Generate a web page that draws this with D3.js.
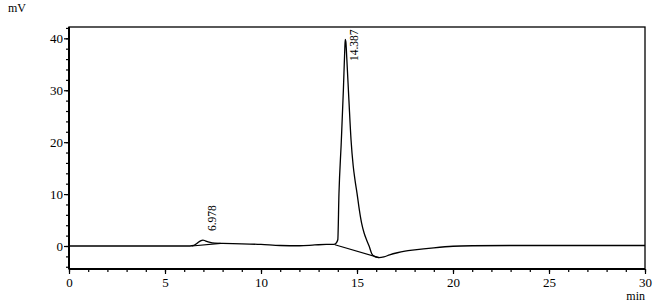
<!DOCTYPE html>
<html>
<head>
<meta charset="utf-8">
<script src="https://cdn.jsdelivr.net/npm/d3@7"></script>
<style>
  body { margin: 0; background: #fff; }
  text { font-family: "Liberation Serif", serif; fill: #000; }
</style>
</head>
<body>
<script>
var width = 667,
    height = 307;

// signal trace (min, mV)
var times = [0, 6.3, 6.5, 6.7, 6.85, 6.978, 7.1, 7.3, 7.6, 8.0, 9.0, 10.0, 11.0, 12.0, 12.8, 13.4, 13.8, 13.9,
             14.0, 14.06, 14.18, 14.29, 14.36, 14.387, 14.42, 14.47, 14.58, 14.69, 14.8, 14.9, 15.0, 15.12, 15.24,
             15.37, 15.5, 15.63, 15.77, 15.95, 16.15, 16.4, 16.7, 17.1, 17.5, 18.0, 19.0, 20.0, 21.0, 23.0, 26.0, 30.0];
var signal = [0, 0, 0.1, 0.6, 1.0, 1.15, 1.0, 0.75, 0.55, 0.5, 0.42, 0.3, 0.1, 0.05, 0.2, 0.3, 0.3, 0.5,
              1.2, 10, 20, 30, 37.5, 39.8, 39.3, 36, 28, 20.4, 15.5, 12.6, 10.2, 7.0, 4.4,
              2.5, 1.15, 0, -1.5, -2.1, -2.25, -2.1, -1.7, -1.3, -1.0, -0.75, -0.35, -0.05, 0.05, 0.1, 0.1, 0.1];

// peaks: retention time, apex, integration baseline
var peakTimes = [6.978, 14.387];
var peakHeights = [1.15, 39.8];
var baseStartT = [6.4, 13.85];
var baseStartV = [0, 0.25];
var baseEndT = [7.9, 16.15];
var baseEndV = [0.5, -2.25];

var xTicks = [0, 5, 10, 15, 20, 25, 30];
var yTicks = [0, 10, 20, 30, 40];

var svg = d3.select("body")
            .append("svg")
            .attr("width", width)
            .attr("height", height);

var x = d3.scaleLinear().domain([0, 30]).range([69, 645]);
var y = d3.scaleLinear().domain([-4.43, 42.18]).range([269, 27]);

// frame
svg.append("rect")
   .attr("x", x(0)).attr("y", y(42.18))
   .attr("width", x(30) - x(0)).attr("height", y(-4.43) - y(42.18))
   .attr("fill", "none").attr("stroke", "#000").attr("stroke-width", 1.3);

// axes
var xMinor = d3.axisBottom(x).tickValues(d3.range(0, 31, 1)).tickSize(3).tickFormat("");
var xMajor = d3.axisBottom(x).tickValues(xTicks).tickSize(5).tickPadding(4).tickFormat(d3.format("d"));
var yMinor = d3.axisLeft(y).tickValues(d3.range(-4, 43, 2)).tickSize(3).tickFormat("");
var yMajor = d3.axisLeft(y).tickValues(yTicks).tickSize(5).tickPadding(1).tickFormat(d3.format("d"));

function styleAxis(g) {
  g.select(".domain").remove();
  g.selectAll("line").attr("stroke", "#000").attr("stroke-width", 1.2);
  g.selectAll("text").attr("font-size", 13).attr("font-family", "Liberation Serif");
}

svg.append("g").attr("transform", "translate(0," + y(-4.43) + ")").call(xMinor).call(styleAxis);
svg.append("g").attr("transform", "translate(0," + y(-4.43) + ")").call(xMajor).call(styleAxis);
svg.append("g").attr("transform", "translate(" + x(0) + ",0)").call(yMinor).call(styleAxis);
svg.append("g").attr("transform", "translate(" + x(0) + ",0)").call(yMajor).call(styleAxis);

svg.append("line")
   .attr("x1", x(0)).attr("x2", x(30)).attr("y1", y(-4.43)).attr("y2", y(-4.43))
   .attr("stroke", "#000").attr("stroke-width", 2);
svg.append("line")
   .attr("x1", x(0)).attr("x2", x(0)).attr("y1", y(42.18)).attr("y2", y(-4.43))
   .attr("stroke", "#000").attr("stroke-width", 2);

svg.append("text").attr("x", 8).attr("y", 12).attr("font-size", 12).text("mV");
svg.append("text").attr("x", 645).attr("y", 300).attr("font-size", 12)
   .attr("text-anchor", "end").text("min");

// trace
var pts = times.map(function(t, i){ return [t, signal[i]]; });
var line = d3.line()
             .x(function(d){ return x(d[0]); })
             .y(function(d){ return y(d[1]); })
             .curve(d3.curveMonotoneX);

svg.append("path")
   .datum(pts)
   .attr("d", line)
   .attr("fill", "none")
   .attr("stroke", "#000")
   .attr("stroke-width", 1.3);

// integration baselines
peakTimes.forEach(function(t, i){
  svg.append("line")
     .attr("x1", x(baseStartT[i])).attr("y1", y(baseStartV[i]))
     .attr("x2", x(baseEndT[i])).attr("y2", y(baseEndV[i]))
     .attr("stroke", "#000").attr("stroke-width", 1.2);
});

// peak labels
peakTimes.forEach(function(t, i){
  var lbl = t.toFixed(3);
  var len = 28;
  var py = y(peakHeights[i]) - 9;
  if (py - len < y(42.18) + 5) py = y(42.18) + 6 + len;
  svg.append("text")
     .attr("transform", "translate(" + (x(t) + 13) + "," + py + ") rotate(-90)")
     .attr("font-size", 11.5)
     .text(lbl);
});
</script>
</body>
</html>
